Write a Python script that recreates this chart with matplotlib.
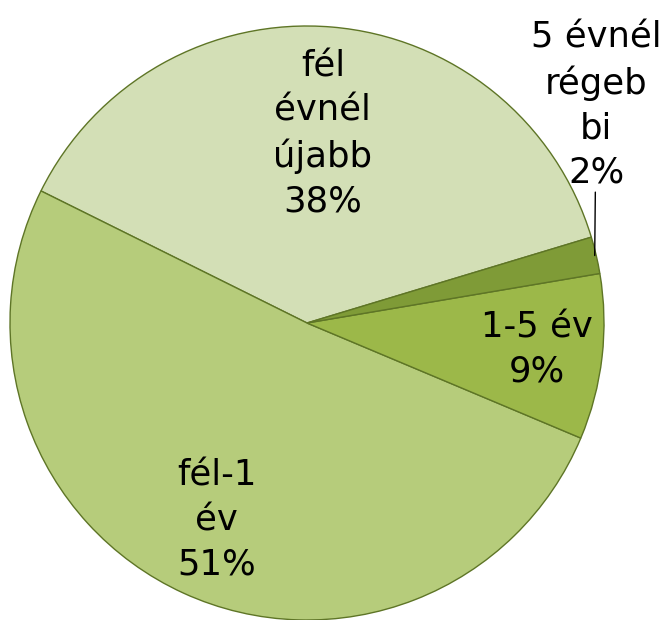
import numpy as np
import matplotlib.pyplot as plt

labels = ["fél\névnél\nújabb", "fél-1\név", "1-5 év", "5 évnél\nrégeb\nbi"]
values = [38, 51, 9, 2]
colors = ["#D3DFB6", "#B6CC7B", "#9CB849", "#7F9B37"]
label_r = [0.64, 0.73, 0.78, None]

W, H = 669, 620
cx, cy, R = 307, 323, 297

fig = plt.figure(figsize=(W / 100, H / 100), dpi=100)
ax = fig.add_axes([0, 0, 1, 1])

wedges, _ = ax.pie(
    values,
    colors=colors,
    startangle=16.8,
    counterclock=True,
    radius=1.0,
    wedgeprops=dict(edgecolor="#5E7526", linewidth=1.0),
)
ax.set_xlim(-cx / R, (W - cx) / R)
ax.set_ylim(-(H - cy) / R, cy / R)
ax.set_aspect("equal")
ax.axis("off")

font = dict(family=["DejaVu Sans"], fontsize=25.5, color="black",
            linespacing=1.38)

for w, lab, v, r in zip(wedges, labels, values, label_r):
    mid = np.deg2rad((w.theta1 + w.theta2) / 2)
    txt = "%s\n%d%%" % (lab, v)
    if r is not None:
        ax.text(r * np.cos(mid), r * np.sin(mid), txt, ha="center",
                va="center", **font)
    else:
        edge = (0.995 * np.cos(mid), 0.995 * np.sin(mid))
        ax.annotate(txt, xy=edge, xytext=(edge[0] + 0.005, 0.45),
                    ha="center", va="bottom",
                    arrowprops=dict(arrowstyle="-", color="black", lw=1,
                                    shrinkA=0, shrinkB=0),
                    **font)

fig.savefig("out.png", dpi=100)
